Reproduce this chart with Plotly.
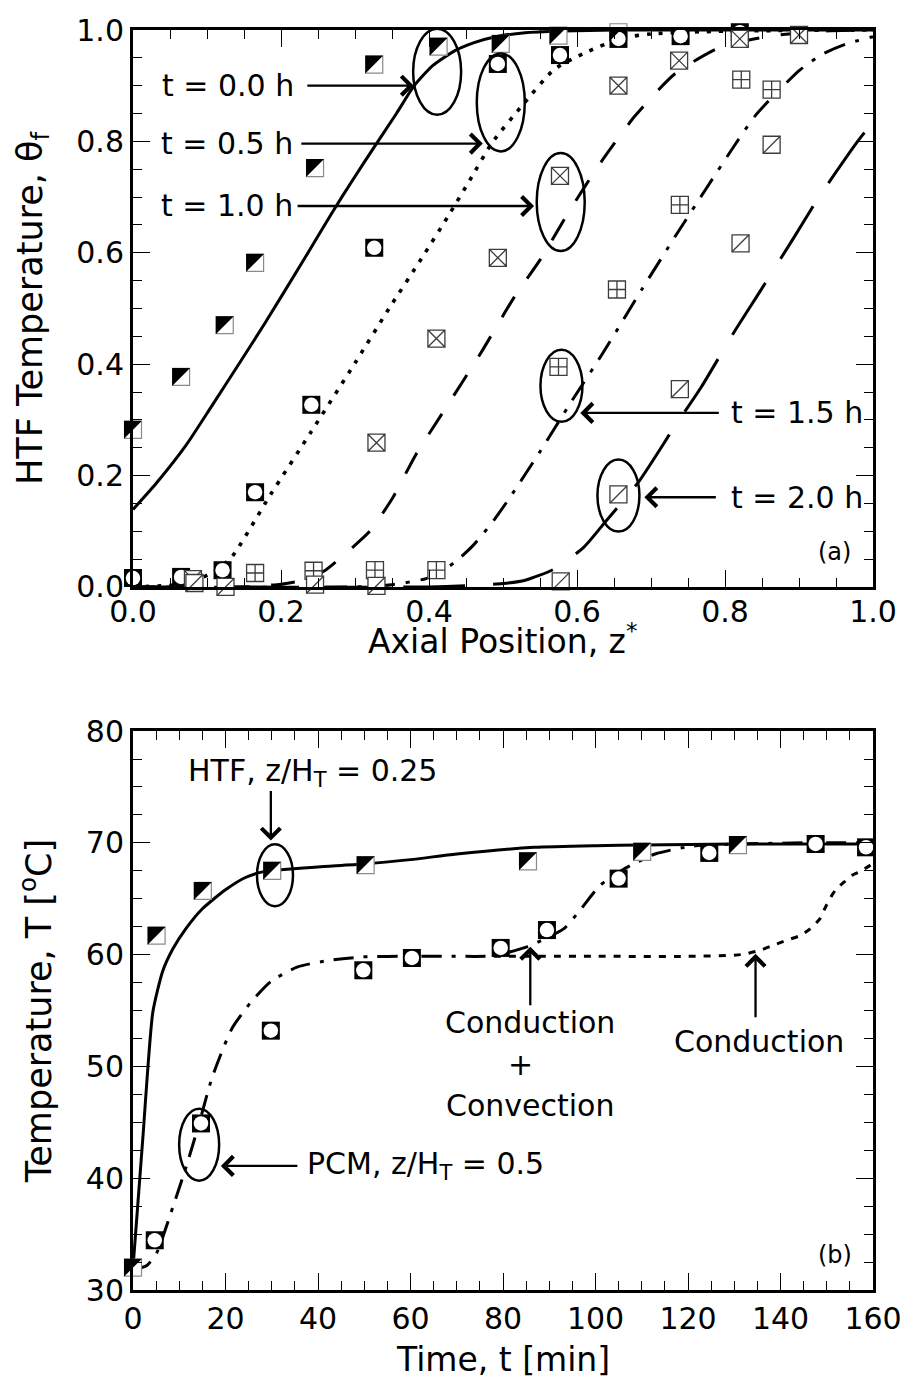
import plotly.graph_objects as go

# ---------------- panel (a): HTF temperature along the tank ----------------
# model curves (axial position z*, dimensionless HTF temperature)
z_m00 = [0.0, 0.032, 0.072, 0.107, 0.142, 0.178, 0.232, 0.269, 0.298, 0.325, 0.356, 0.38, 0.405,
         0.435, 0.46, 0.49, 0.53, 0.58, 0.65, 0.8, 1.0]
th_m00 = [0.139, 0.187, 0.255, 0.326, 0.398, 0.473, 0.59, 0.672, 0.733, 0.788, 0.85, 0.9, 0.936,
          0.963, 0.977, 0.988, 0.995, 0.998, 1.0, 1.0, 1.0]

z_m05 = [0.0, 0.06, 0.09, 0.11, 0.133, 0.186, 0.24, 0.3, 0.346, 0.39, 0.426, 0.455, 0.485, 0.525,
         0.569, 0.609, 0.66, 0.7, 0.8, 1.0]
th_m05 = [0.0, 0.004, 0.015, 0.028, 0.053, 0.166, 0.277, 0.402, 0.5, 0.59, 0.666, 0.73, 0.797, 0.863,
          0.929, 0.958, 0.985, 0.993, 0.998, 1.0]

z_m10 = [0.0, 0.15, 0.2, 0.23, 0.26, 0.289, 0.32, 0.351, 0.382, 0.422, 0.47, 0.515, 0.551, 0.591,
         0.631, 0.678, 0.732, 0.795, 0.866, 0.932, 1.0]
th_m10 = [0.0, 0.0, 0.005, 0.012, 0.03, 0.062, 0.1, 0.16, 0.237, 0.32, 0.42, 0.52, 0.589, 0.678,
          0.76, 0.845, 0.921, 0.97, 0.99, 0.998, 1.0]

z_m15 = [0.0, 0.3, 0.35, 0.396, 0.42, 0.44, 0.46, 0.485, 0.509, 0.551, 0.591, 0.635, 0.688, 0.733,
         0.772, 0.818, 0.842, 0.879, 0.901, 0.932, 0.964, 1.0]
th_m15 = [0.0, 0.0, 0.004, 0.015, 0.03, 0.05, 0.075, 0.115, 0.16, 0.245, 0.33, 0.42, 0.535, 0.63,
          0.71, 0.803, 0.848, 0.9, 0.928, 0.957, 0.975, 0.988]

z_m20 = [0.0, 0.4, 0.45, 0.5, 0.53, 0.569, 0.609, 0.639, 0.684, 0.731, 0.768, 0.812, 0.848, 0.892,
         0.925, 0.977, 1.0]
th_m20 = [0.0, 0.0, 0.002, 0.006, 0.012, 0.032, 0.071, 0.118, 0.19, 0.286, 0.359, 0.457, 0.532,
          0.625, 0.696, 0.796, 0.835]

# measured points
z_e00 = [0.0, 0.065, 0.124, 0.165, 0.246, 0.326, 0.413, 0.497, 0.575, 0.656]
th_e00 = [0.282, 0.377, 0.47, 0.582, 0.752, 0.938, 0.97, 0.975, 0.99, 0.996]

z_e05 = [0.0, 0.065, 0.121, 0.165, 0.241, 0.326, 0.493, 0.577, 0.656, 0.74, 0.82]
th_e05 = [0.016, 0.018, 0.03, 0.17, 0.327, 0.609, 0.939, 0.955, 0.984, 0.989, 0.996]

z_e10 = [0.081, 0.329, 0.41, 0.493, 0.577, 0.656, 0.738, 0.82, 0.9]
th_e10 = [0.014, 0.259, 0.446, 0.591, 0.738, 0.9, 0.945, 0.984, 0.991]

z_e15 = [0.165, 0.244, 0.327, 0.41, 0.575, 0.654, 0.739, 0.822, 0.863]
th_e15 = [0.025, 0.029, 0.03, 0.03, 0.395, 0.534, 0.686, 0.911, 0.893]

z_e20 = [0.083, 0.125, 0.246, 0.329, 0.578, 0.656, 0.739, 0.821, 0.863]
th_e20 = [0.007, 0.0, 0.004, 0.002, 0.01, 0.166, 0.355, 0.617, 0.794]

# ---------------- panel (b): temperature history ----------------
t_htf_m = [0, 1.1, 2.2, 3.2, 4.3, 6.4, 8.6, 11.4, 15, 20, 24.3, 28.5, 32, 40, 49.8, 60, 70,
           86.7, 100, 110, 130, 160]
T_htf_m = [32.0, 38.0, 44.0, 49.8, 54.9, 58.5, 60.5, 62.3, 64.1, 65.8, 66.9, 67.45, 67.6, 67.85,
           68.1, 68.5, 69.0, 69.6, 69.75, 69.8, 69.9, 69.9]

t_pcm_m = [0, 3.0, 5.1, 8.6, 11.4, 14.3, 17.1, 21.4, 25.6, 29.8, 35.6, 42.6, 49.8, 60, 70, 78,
           85.2, 89, 93.1, 96.7, 101, 105.9, 112.9, 120.8, 131.4, 145, 160]
T_pcm_m = [31.8, 32.2, 33.3, 37.4, 40.9, 44.9, 49.0, 53.4, 55.8, 57.6, 58.9, 59.5, 59.8, 59.85,
           59.85, 59.9, 60.7, 61.4, 62.3, 64.0, 66.2, 67.6, 69.0, 69.7, 69.9, 70.0, 70.0]

t_cond_m = [78, 100, 120, 131.4, 135.7, 138.5, 141.4, 144.2, 146.4, 148.5, 149.9, 151.1, 152.1,
            153.8, 155.5, 157.5, 159.8]
T_cond_m = [59.85, 59.85, 59.85, 60.0, 60.4, 60.85, 61.3, 61.7, 62.3, 63.2, 64.4, 65.3, 65.9,
            66.5, 67.1, 67.5, 68.1]

t_htf_e = [0, 5.1, 15.1, 30.1, 50.3, 85.4, 110.1, 130.8]
T_htf_e = [32.0, 61.7, 65.7, 67.5, 68.0, 68.35, 69.2, 69.8]

t_pcm_e = [4.7, 14.7, 29.8, 49.8, 60.3, 79.5, 89.5, 105.0, 124.6, 147.6, 158.5]
T_pcm_e = [34.45, 44.9, 53.2, 58.6, 59.7, 60.6, 62.2, 66.8, 69.1, 69.9, 69.6]

FONT = "DejaVu Sans"
MSIZE = 17
EDGE = "#3c3c3c"

fig = go.Figure()
shapes = []


def line(x, y, xa, ya, dash, width=3.0):
    fig.add_trace(go.Scatter(x=x, y=y, mode="lines", xaxis=xa, yaxis=ya, showlegend=False,
                             line=dict(color="black", width=width, dash=dash,
                                       shape="spline", smoothing=0.6),
                             hoverinfo="skip"))


def pts(x, y, xa, ya, **marker):
    fig.add_trace(go.Scatter(x=x, y=y, mode="markers", xaxis=xa, yaxis=ya, showlegend=False,
                             cliponaxis=False, marker=marker, hoverinfo="skip"))


def half_filled(x, y, xa, ya, x_start):
    # white square marker with its upper-left half filled black
    pts(x, y, xa, ya, symbol="square", size=MSIZE, color="white",
        line=dict(color="#8a8a8a", width=1.2))
    h = MSIZE / 2 + 0.5
    for xv, yv in zip(x, y):
        # a point sitting on the left frame is anchored to the paper edge so it is not clipped
        xr = "paper" if xv == x_start else xa
        shapes.append(dict(type="path", xref=xr, yref=ya, xsizemode="pixel", ysizemode="pixel",
                           xanchor=xv, yanchor=yv,
                           path=f"M{-h},{h} L{h},{h} L{-h},{-h} Z",
                           fillcolor="black", line=dict(width=0), layer="above"))


def circ_sq(x, y, xa, ya):
    pts(x, y, xa, ya, symbol="square", size=MSIZE + 1, color="black", line=dict(width=0))
    pts(x, y, xa, ya, symbol="circle", size=MSIZE - 2.5, color="white", line=dict(width=0))


def boxed(x, y, xa, ya, symbol):
    pts(x, y, xa, ya, symbol=symbol, size=MSIZE, color="white",
        line=dict(color=EDGE, width=1.3))


def slashed(x, y, xa, ya):
    boxed(x, y, xa, ya, "square")
    pts(x, y, xa, ya, symbol="line-ne", size=MSIZE, color=EDGE,
        line=dict(color=EDGE, width=1.3))


# panel (a) curves
line(z_m00, th_m00, "x", "y", "solid")
line(z_m05, th_m05, "x", "y", "4px,8px", 3.6)
line(z_m10, th_m10, "x", "y", "24px,22px")
line(z_m15, th_m15, "x", "y", "22px,11px,4px,11px")
line(z_m20, th_m20, "x", "y", "62px,28px")

# panel (a) measurements
half_filled(z_e00, th_e00, "x", "y", 0.0)
circ_sq(z_e05, th_e05, "x", "y")
boxed(z_e10, th_e10, "x", "y", "square-x")
boxed(z_e15, th_e15, "x", "y", "square-cross")
slashed(z_e20, th_e20, "x", "y")

# panel (b) curves
line(t_htf_m, T_htf_m, "x2", "y2", "solid")
line(t_pcm_m, T_pcm_m, "x2", "y2", "20px,10px,4px,10px")
line(t_cond_m, T_cond_m, "x2", "y2", "7px,8px")

# panel (b) measurements
circ_sq(t_pcm_e, T_pcm_e, "x2", "y2")
half_filled(t_htf_e, T_htf_e, "x2", "y2", 0)

# ---------------- annotations ----------------
ann = []


def label(x, y, xr, yr, text, size=30):
    ann.append(dict(x=x, y=y, xref=xr, yref=yr, text=text, showarrow=False,
                    font=dict(family=FONT, size=size, color="black"),
                    xanchor="center", yanchor="middle"))


def arrow(x, y, xr, yr, ax, ay):
    ann.append(dict(x=x, y=y, xref=xr, yref=yr, text="", showarrow=True, ax=ax, ay=ay,
                    arrowhead=4, arrowsize=1.6, arrowwidth=2.3, arrowcolor="black",
                    font=dict(size=1)))


def ellipse(x, y, xr, yr, rx, ry):
    shapes.append(dict(type="circle", xref=xr, yref=yr, xsizemode="pixel", ysizemode="pixel",
                       xanchor=x, yanchor=y, x0=-rx, x1=rx, y0=-ry, y1=ry,
                       line=dict(color="black", width=2.5)))


label(0.129, 0.90, "x", "y", "t = 0.0 h")
label(0.1265, 0.796, "x", "y", "t = 0.5 h")
label(0.1265, 0.684, "x", "y", "t = 1.0 h")
label(0.897, 0.3125, "x", "y", "t = 1.5 h")
label(0.897, 0.161, "x", "y", "t = 2.0 h")
label(0.948, 0.0625, "x", "y", "(a)", 24)

arrow(0.3795, 0.90, "x", "y", -108, 0)
arrow(0.4727, 0.796, "x", "y", -183, 0)
arrow(0.542, 0.684, "x", "y", -238, 0)
arrow(0.6045, 0.3125, "x", "y", 140, 0)
arrow(0.691, 0.161, "x", "y", 73, 0)

ellipse(0.411, 0.925, "x", "y", 24, 43)
ellipse(0.497, 0.870, "x", "y", 24, 49)
ellipse(0.578, 0.691, "x", "y", 24, 49)
ellipse(0.579, 0.361, "x", "y", 21, 36)
ellipse(0.656, 0.164, "x", "y", 21, 36)

label(38.8, 76.26, "x2", "y2", "HTF, z/H<sub>T</sub> = 0.25")
arrow(29.8, 70.2, "x2", "y2", 0, -51)
ellipse(30.7, 67.1, "x2", "y2", 18, 31)

label(85.9, 53.93, "x2", "y2", "Conduction")
label(83.7, 50.2, "x2", "y2", "+")
label(85.9, 46.46, "x2", "y2", "Convection")
arrow(85.9, 60.7, "x2", "y2", 0, 60)

label(135.3, 52.24, "x2", "y2", "Conduction")
arrow(134.6, 60.07, "x2", "y2", 0, 65)

label(63.3, 41.1, "x2", "y2", "PCM, z/H<sub>T</sub> = 0.5")
arrow(19.0, 41.1, "x2", "y2", 78, 0)
ellipse(14.3, 43.0, "x2", "y2", 20, 36)

label(151.7, 33.1, "x2", "y2", "(b)", 24)

# x-axis titles, placed just under the tick labels
xtitle = dict(family=FONT, size=33, color="black")
ann.append(dict(x=0.5, y=0.5165, xref="paper", yref="paper", showarrow=False,
                text="Axial Position, z<sup>*</sup>", font=xtitle,
                xanchor="center", yanchor="middle"))
ann.append(dict(x=0.5, y=-0.0552, xref="paper", yref="paper", showarrow=False,
                text="Time, t [min]", font=xtitle, xanchor="center", yanchor="middle"))

# ---------------- axes ----------------
tickfont = dict(family=FONT, size=30, color="black")
ytitlefont = dict(family=FONT, size=35, color="black")
common = dict(showgrid=False, zeroline=False, showline=True, linecolor="black", linewidth=3,
              mirror="allticks", ticks="inside", ticklen=17, tickwidth=1.3, tickcolor="black",
              tickfont=tickfont)

fig.update_layout(
    width=914, height=1382, autosize=False,
    margin=dict(l=133, r=29, t=23, b=92),
    paper_bgcolor="white", plot_bgcolor="white",
    font=dict(family=FONT, color="black"),
    xaxis=dict(domain=[0, 1], anchor="y", range=[0, 1], dtick=0.2, tickformat=".1f",
               ticklabelstandoff=-4,
               minor=dict(ticks="inside", ticklen=9, dtick=0.05, tickwidth=1.3, tickcolor="black"),
               **common),
    yaxis=dict(domain=[0.558, 1], anchor="x", range=[0, 1], dtick=0.2, tickformat=".1f",
               minor=dict(ticks="inside", ticklen=9, dtick=0.05, tickwidth=1.3, tickcolor="black"),
               title=dict(text="HTF Temperature, θ<sub>f</sub>", font=ytitlefont, standoff=24),
               **common),
    xaxis2=dict(domain=[0, 1], anchor="y2", range=[0, 160], dtick=20,
                minor=dict(ticks="inside", ticklen=9, dtick=5, tickwidth=1.3, tickcolor="black"),
                **common),
    yaxis2=dict(domain=[0, 0.4436], anchor="x2", range=[30, 80], dtick=10,
                minor=dict(ticks="inside", ticklen=9, dtick=2.5, tickwidth=1.3, tickcolor="black"),
                title=dict(text="Temperature, T [<sup>o</sup>C]", font=ytitlefont, standoff=24),
                **common),
    annotations=ann,
    shapes=shapes,
)

fig.write_html("out.html")
